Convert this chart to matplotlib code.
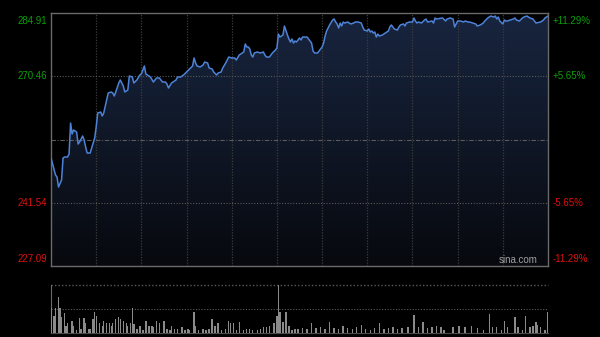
import numpy as np
import matplotlib
matplotlib.use("Agg")
import matplotlib.pyplot as plt
from matplotlib.colors import LinearSegmentedColormap
from matplotlib.patches import PathPatch

plt.rcParams['font.family'] = ['Liberation Sans', 'DejaVu Sans']

# ---- data ----
prev_close = 256.00
y_ticks_left = [284.91, 270.46, 241.54, 227.09]
y_ticks_right = ["+11.29%", "+5.65%", "-5.65%", "-11.29%"]
tick_colors = ["#0a9f0a", "#0a9f0a", "#dd1111", "#dd1111"]

price_min = [0, 3, 4, 5, 7, 8, 9, 11, 12, 13, 14, 15, 17, 18, 19, 21, 22, 23, 24, 26, 27, 29, 30, 31, 33, 34, 35,
             37, 38, 40, 41, 42, 43, 45, 46, 48, 49, 51, 52, 54, 55, 57, 59, 60, 62, 63, 64, 66, 68, 69, 70, 72,
             74, 76, 77, 78, 80, 81, 83, 84, 86, 88, 90, 92, 94, 95, 96, 97, 99, 101, 102, 104, 105, 107, 108,
             110, 111, 113, 114, 116, 118, 120, 122, 123, 125, 127, 128, 129, 130, 131, 132, 133, 134, 135, 137,
             139, 141, 142, 143, 145, 147, 149, 150, 151, 152, 154, 155, 157, 158, 159, 160, 161, 162, 163, 165,
             166, 167, 170, 171, 173, 174, 175, 177, 179, 180, 181, 182, 183, 185, 187, 188, 189, 190, 191, 192,
             193, 194, 195, 197, 199, 201, 202, 204, 206, 207, 208, 210, 211, 212, 213, 214, 215, 216, 217, 218,
             220, 222, 224, 225, 226, 227, 228, 230, 231, 232, 234, 235, 236, 238, 240, 241, 242, 243, 244, 246,
             248, 249, 250, 252, 253, 254, 255, 256, 258, 260, 262, 263, 265, 267, 268, 270, 272, 274, 275, 277,
             278, 280, 282, 283, 285, 287, 288, 290, 292, 294, 295, 296, 297, 298, 300, 301, 302, 303, 305, 307,
             308, 309, 311, 313, 314, 316, 318, 320, 321, 322, 325, 327, 328, 330]
price_val = [251.77, 247.89, 247.43, 245.14, 246.74, 251.77, 252.00, 252.00, 252.69, 259.77, 257.26, 258.17,
             257.71, 254.97, 255.43, 256.80, 255.88, 254.29, 252.91, 252.91, 254.06, 256.34, 258.86, 262.05,
             262.28, 261.37, 262.05, 265.03, 266.63, 266.86, 266.63, 265.94, 266.86, 268.91, 269.60, 268.23,
             266.86, 267.31, 270.51, 270.28, 268.91, 269.60, 270.75, 271.00, 272.80, 270.97, 270.74, 270.28,
             269.14, 269.60, 270.05, 270.05, 269.14, 269.14, 268.68, 267.77, 268.91, 269.14, 269.60, 270.28,
             270.28, 270.74, 271.43, 272.11, 272.80, 274.63, 273.48, 272.80, 272.57, 273.03, 273.71, 273.48,
             272.34, 272.11, 271.43, 270.74, 271.20, 271.43, 272.34, 273.48, 274.85, 274.63, 274.63, 274.17,
             275.31, 275.77, 276.00, 277.83, 277.14, 277.14, 276.68, 275.31, 274.85, 275.77, 276.00, 275.77,
             276.00, 275.31, 274.85, 274.85, 275.77, 276.45, 276.91, 280.11, 279.42, 279.88, 281.94, 279.88,
             278.97, 278.28, 278.97, 278.05, 278.51, 278.28, 279.20, 278.74, 279.42, 279.42, 278.97, 278.05,
             276.23, 275.77, 275.77, 276.68, 277.14, 278.05, 279.65, 280.80, 282.17, 283.31, 283.54, 282.85,
             282.40, 281.48, 282.62, 281.94, 282.85, 282.62, 282.85, 282.40, 282.62, 282.85, 282.85, 282.62,
             281.71, 281.02, 280.80, 281.25, 280.57, 280.80, 280.34, 280.57, 279.42, 280.11, 279.65, 279.88,
             280.34, 280.80, 281.71, 282.17, 281.71, 281.25, 281.02, 281.71, 282.17, 282.40, 281.94, 282.62,
             282.85, 282.85, 283.77, 283.08, 282.62, 282.85, 282.62, 283.31, 283.54, 282.85, 283.00, 283.08,
             282.62, 283.77, 283.54, 283.65, 283.77, 283.08, 283.54, 283.77, 283.54, 281.71, 283.08, 283.08,
             282.85, 283.08, 282.85, 282.85, 282.62, 282.40, 281.94, 282.17, 282.62, 283.08, 283.77, 284.22,
             283.99, 284.22, 283.54, 283.99, 283.08, 282.40, 283.31, 283.08, 283.08, 283.31, 283.54, 283.77,
             283.31, 283.08, 283.77, 283.99, 284.22, 283.77, 283.54, 283.08, 282.62, 282.85, 283.31, 283.77,
             284.22]

vol_min = [0, 2, 3, 5, 6, 7, 9, 10, 11, 14, 15, 17, 19, 20, 22, 23, 25, 26, 28, 29, 30, 32, 34, 35, 37, 39, 40,
           41, 43, 45, 46, 48, 50, 51, 53, 54, 55, 57, 59, 61, 63, 65, 67, 68, 70, 72, 75, 77, 79, 80, 82, 84,
           87, 89, 91, 92, 95, 96, 98, 101, 103, 105, 107, 109, 111, 113, 116, 118, 119, 121, 123, 125, 128,
           130, 132, 134, 137, 139, 141, 143, 145, 148, 150, 151, 152, 154, 156, 158, 160, 162, 164,
           167, 170, 173, 176, 179, 182, 185, 188, 191, 194, 197, 200, 203, 206, 209, 212, 215, 218, 221, 224,
           227, 230, 233, 237, 241, 244, 247, 250, 253, 256, 259, 261, 267, 271, 275, 279, 283, 287, 291, 293,
           296, 299, 301, 303, 308, 310, 313, 315, 318, 320, 322, 323, 325, 328, 330]
vol_val = [52, 35, 52, 75, 52, 33, 42, 13, 21, 25, 14, 6, 31, 8, 31, 21, 8, 8, 29, 44, 35, 19, 14, 24, 19, 21,
           14, 19, 29, 33, 28, 25, 19, 14, 21, 51, 17, 7, 14, 6, 24, 14, 14, 12, 25, 19, 24, 8, 6, 14, 7, 8,
           12, 6, 8, 6, 44, 14, 6, 8, 6, 8, 29, 14, 19, 6, 8, 24, 21, 19, 6, 22, 6, 7, 7, 6, 6, 8, 12, 12,
           14, 19, 35, 100, 44, 22, 44, 14, 6, 8, 7,
           10, 8, 20, 9, 12, 7, 22, 10, 8, 14, 9, 7, 11, 16, 8, 6, 10, 20, 7, 9,
           12, 7, 9, 11, 36, 11, 23, 9, 11, 13, 11, 6, 12, 13, 11, 13, 9, 6, 38, 12,
           11, 6, 25, 11, 32, 11, 6, 34, 11, 13, 23, 15, 11, 6, 43]

# ---- figure ----
fig = plt.figure(figsize=(6.0, 3.37), dpi=100, facecolor='black')
ax = fig.add_axes([51 / 600, 71 / 337, 497 / 600, 253 / 337])
axv = fig.add_axes([51 / 600, 4.5 / 337, 497 / 600, 47.5 / 337])

ylo, yhi = y_ticks_left[-1], y_ticks_left[0]
ax.set_facecolor('black')
ax.set_xlim(0, 330)
ax.set_ylim(ylo, yhi)

# gradient area under the line
poly = ax.fill_between(price_min, price_val, ylo, color='none', lw=0)
grad = np.linspace(0, 1, 256).reshape(-1, 1)
cmap = LinearSegmentedColormap.from_list('g', ['#07090e', '#18253f'])
im = ax.imshow(grad, extent=[0, 330, ylo, yhi], origin='lower', aspect='auto', cmap=cmap, zorder=1)
patch = PathPatch(poly.get_paths()[0], transform=ax.transData, facecolor='none', edgecolor='none')
ax.add_patch(patch)
im.set_clip_path(patch)

# grid
for xv in range(30, 330, 30):
    ax.axvline(xv, color='#3c3c3c', lw=0.9, ls=(0, (1, 1.2)), zorder=2)
for yv in [y_ticks_left[1], y_ticks_left[2]]:
    ax.axhline(yv, color='#5a5a5a', lw=0.8, ls=(0, (1, 1.5)), zorder=2)
ax.axhline(prev_close, color='#5a5a5a', lw=0.8, ls=(0, (4, 1.5, 1, 1.5)), zorder=2)

ax.plot(price_min, price_val, color='#4d82d6', lw=1.1, zorder=3)

for s in ax.spines.values():
    s.set_color('#6a6a6a')
    s.set_linewidth(1.0)
ax.set_xticks([])
ax.set_yticks([])

# tick labels
for i, (v, lab, c) in enumerate(zip(y_ticks_left, y_ticks_right, tick_colors)):
    if i == 0:
        va, off = 'top', -3
    elif i == len(y_ticks_left) - 1:
        va, off = 'bottom', 2
    else:
        va, off = 'center', 0
    ax.annotate(f"{v:.2f}", xy=(0, v), xycoords=('axes fraction', 'data'), xytext=(-4, off),
                textcoords='offset pixels', ha='right', va=va, color=c, fontsize=7)
    ax.annotate(lab, xy=(1, v), xycoords=('axes fraction', 'data'), xytext=(5, off),
                textcoords='offset pixels', ha='left', va=va, color=c, fontsize=7)

ax.text(0.98, 0.005, "sina.com", transform=ax.transAxes, ha='right', va='bottom',
        color='#a0a0a0', fontsize=7, zorder=5)

# volume panel
axv.set_facecolor('black')
axv.set_xlim(0, 330)
axv.set_ylim(0, 100)
axv.bar(vol_min, vol_val, width=0.9, color='#8a8a8a', zorder=3)
axv.axhline(50, color='#5a5a5a', lw=0.8, ls=(0, (1, 1.5)))
axv.axhline(100, color='#5a5a5a', lw=1.0, ls=(0, (1, 1.5)), clip_on=False)
axv.spines['top'].set_visible(False)
axv.spines['right'].set_visible(False)
axv.spines['left'].set_color('#6a6a6a')
axv.spines['bottom'].set_color('#4a4a4a')
axv.set_xticks([])
axv.set_yticks([])

fig.savefig('out.png', dpi=100, facecolor='black')
